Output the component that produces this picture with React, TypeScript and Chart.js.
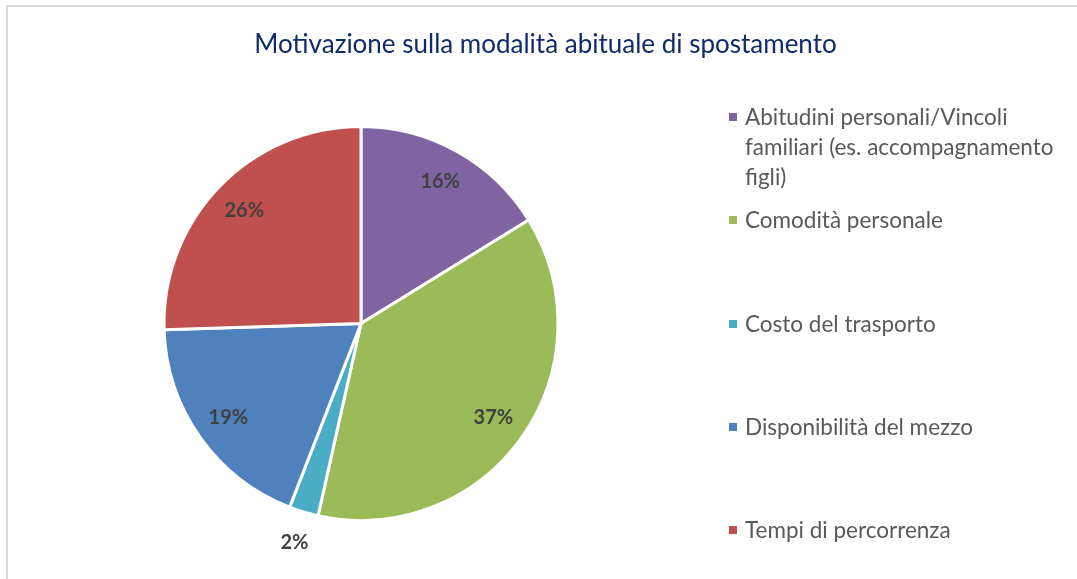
import React, { useEffect, useRef } from "react";
import { Chart, registerables } from "chart.js";

Chart.register(...registerables);

const title = "Motivazione sulla modalità abituale di spostamento";
const categories: (string | string[])[] = [
  ["Abitudini personali/Vincoli", "familiari (es. accompagnamento", "figli)"],
  "Comodità personale",
  "Costo del trasporto",
  "Disponibilità del mezzo",
  "Tempi di percorrenza",
];
const values = [16.2, 37.3, 2.4, 18.6, 25.5];
const colors = ["#8064A2", "#9BBB59", "#4BACC6", "#4F81BD", "#C0504D"];

const FONT = "Lato, 'Open Sans', sans-serif";

const labelPlugin = {
  id: "pieLabels",
  afterDatasetsDraw(chart: any) {
    const { ctx } = chart;
    const meta = chart.getDatasetMeta(0);
    const data = chart.data.datasets[0].data as number[];
    const total = data.reduce((a, b) => a + b, 0);
    ctx.save();
    ctx.font = `bold 20px ${FONT}`;
    ctx.fillStyle = "#404040";
    ctx.textAlign = "center";
    ctx.textBaseline = "middle";
    meta.data.forEach((arc: any, i: number) => {
      const { x, y, startAngle, endAngle, outerRadius } = arc.getProps(
        ["x", "y", "startAngle", "endAngle", "outerRadius"],
        true
      );
      const pct = (data[i] / total) * 100;
      const mid = (startAngle + endAngle) / 2;
      const r = pct < 5 ? outerRadius * 1.16 : outerRadius * 0.825;
      ctx.fillText(`${Math.round(pct)}%`, x + Math.cos(mid) * r, y + Math.sin(mid) * r);
    });
    ctx.restore();
  },
};

export default function App() {
  const ref = useRef<HTMLCanvasElement | null>(null);
  useEffect(() => {
    if (!ref.current) return;
    const chart = new Chart(ref.current, {
      type: "pie",
      data: {
        labels: categories as any,
        datasets: [
          {
            data: values,
            backgroundColor: colors,
            borderColor: "#ffffff",
            borderWidth: 3,
          },
        ],
      },
      options: {
        animation: false,
        responsive: false,
        events: [],
        layout: { padding: { left: 162, top: 125, right: 517, bottom: 57 } },
        plugins: {
          legend: { display: false },
          tooltip: { enabled: false },
          title: { display: false },
        },
      },
      plugins: [labelPlugin],
    });
    return () => chart.destroy();
  }, []);

  return (
    <div
      style={{
        position: "fixed",
        left: 0,
        top: 0,
        width: 1077,
        height: 579,
        background: "#ffffff",
        overflow: "hidden",
        fontFamily: FONT,
      }}
    >
      <div
        style={{
          position: "absolute",
          left: 6,
          top: 5,
          width: 1100,
          height: 600,
          border: "2px solid #d9d9d9",
          boxSizing: "border-box",
        }}
      />
      <canvas
        ref={ref}
        width={1077}
        height={579}
        style={{ position: "absolute", left: 0, top: 0, width: 1077, height: 579 }}
      />
      <div
        style={{
          position: "absolute",
          left: 0,
          width: 1091,
          top: 27,
          textAlign: "center",
          fontSize: 26,
          color: "#0F2C68",
          whiteSpace: "nowrap",
        }}
      >
        {title}
      </div>
      <div style={{ position: "absolute", left: 729, top: 102 }}>
        {categories.map((c, i) => {
          const lines = Array.isArray(c) ? c : [c];
          return (
            <div key={i} style={{ position: "relative", height: 103.3 }}>
              <div
                style={{
                  position: "absolute",
                  left: 0,
                  top: 11,
                  width: 8,
                  height: 8,
                  background: colors[i],
                }}
              />
              <div
                style={{
                  position: "absolute",
                  left: 16,
                  top: 0,
                  fontSize: 22.5,
                  lineHeight: "30px",
                  color: "#595959",
                  whiteSpace: "nowrap",
                }}
              >
                {lines.map((l, j) => (
                  <div key={j}>{l}</div>
                ))}
              </div>
            </div>
          );
        })}
      </div>
    </div>
  );
}
